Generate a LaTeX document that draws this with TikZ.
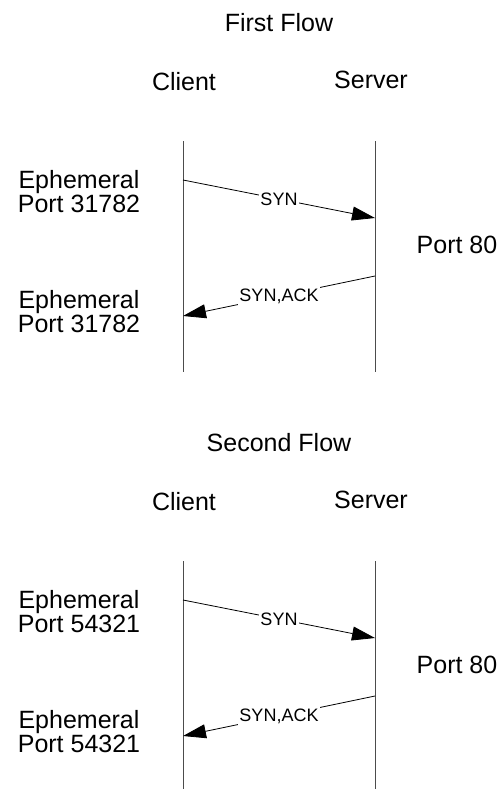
\documentclass[tikz,border=0pt]{standalone}
\usepackage{fontspec}
\setmainfont{Liberation Sans}
\usetikzlibrary{arrows.meta,positioning}

\begin{document}
\begin{tikzpicture}[x=1pt, y=-1pt,
    heading/.style={font=\fontsize{25}{24}\selectfont, inner sep=1pt},
    portlabel/.style={font=\fontsize{25}{24}\selectfont, align=center, inner sep=1pt},
    lifeline/.style={line width=0.9pt, color=black!70},
    msg/.style={-{Triangle[length=23pt, width=14pt]}, line width=0.8pt},
    msglabel/.style={font=\fontsize{18}{18}\selectfont, fill=white, inner sep=1.5pt}
]
\useasboundingbox (0,0) rectangle (501,789);

% --- first flow ---
\node[heading] (title1)  at (279,23) {First Flow};
\node[heading] (client1) at (184,82) {Client};
\node[heading] (server1) at (371,80) {Server};

\coordinate (c1top) at (183,141);
\coordinate (c1bot) at (183,372);
\coordinate (s1top) at (375,141);
\coordinate (s1bot) at (375,372);
\draw[lifeline] (c1top) -- (c1bot);
\draw[lifeline] (s1top) -- (s1bot);

\node[portlabel] (eph1a) at (79,192) {Ephemeral\\Port 31782};
\node[portlabel] (srv1)  at (457,245) {Port 80};
\node[portlabel] (eph1b) at (79,312) {Ephemeral\\Port 31782};

\coordinate (syn1from) at (183,180);
\coordinate (syn1to)   at (375,218);
\coordinate (ack1from) at (375,276);
\coordinate (ack1to)   at (183,316);
\draw[msg] (syn1from) -- node[msglabel]{SYN} (syn1to);
\draw[msg] (ack1from) -- node[msglabel]{SYN,ACK} (ack1to);

% --- second flow ---
\node[heading] (title2)  at (279,443) {Second Flow};
\node[heading] (client2) at (184,502) {Client};
\node[heading] (server2) at (371,500) {Server};

\coordinate (c2top) at (183,561);
\coordinate (c2bot) at (183,789);
\coordinate (s2top) at (375,561);
\coordinate (s2bot) at (375,789);
\draw[lifeline] (c2top) -- (c2bot);
\draw[lifeline] (s2top) -- (s2bot);

\node[portlabel] (eph2a) at (79,612) {Ephemeral\\Port 54321};
\node[portlabel] (srv2)  at (457,665) {Port 80};
\node[portlabel] (eph2b) at (79,732) {Ephemeral\\Port 54321};

\coordinate (syn2from) at (183,600);
\coordinate (syn2to)   at (375,638);
\coordinate (ack2from) at (375,696);
\coordinate (ack2to)   at (183,736);
\draw[msg] (syn2from) -- node[msglabel]{SYN} (syn2to);
\draw[msg] (ack2from) -- node[msglabel]{SYN,ACK} (ack2to);

\end{tikzpicture}
\end{document}
